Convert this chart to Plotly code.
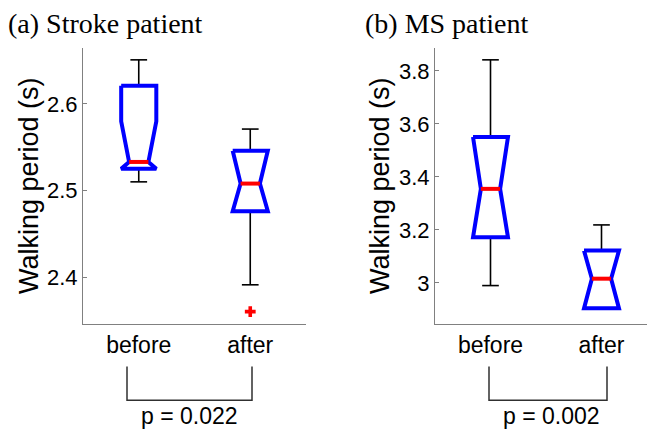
import plotly.graph_objects as go

# ---- data ----
categories = ["before", "after"]

# (a) Stroke patient
a_upper = [2.651, 2.571]
a_q3 = [2.621, 2.546]
a_median = [2.533, 2.508]
a_q1 = [2.525, 2.476]
a_lower = [2.510, 2.391]
a_notch = [0.047, 0.05]
a_outliers_x = ["after"]
a_outliers_y = [2.360]

# (b) MS patient
b_upper = [3.842, 3.219]
b_q3 = [3.551, 3.122]
b_median = [3.355, 3.016]
b_q1 = [3.172, 2.904]
b_lower = [2.990, 2.904]
b_notch = [0.25, 0.15]

a_ticks = [2.4, 2.5, 2.6]
a_ticktext = ["2.4", "2.5", "2.6"]
b_ticks = [3.0, 3.2, 3.4, 3.6, 3.8]
b_ticktext = ["3", "3.2", "3.4", "3.6", "3.8"]

p_values = ["p = 0.022", "p = 0.002"]
titles = ["(a) Stroke patient", "(b) MS patient"]

# ---- style ----
OFF = 8                      # default page body margin of the browser
W_REF, H_REF = 655, 429
W, H = W_REF - OFF, H_REF - OFF
TOP, BOTTOM = 48, 324.5      # plot area in page pixels
BOX_W = 0.315
NOTCH_W = 0.55 * BOX_W
CAP_W = 0.15
BLUE = "#0000FF"
RED = "#FF0000"
AXC = "#808080"
SANS = "Arial, Liberation Sans, sans-serif"
SERIF = "Times New Roman, Liberation Serif, serif"

fig = go.Figure()


def add_panel(xa, ya, upper, q3, med, q1, lower, notch):
    for i, cat in enumerate(categories):
        c = i + 1
        wx, wy = [], []
        if upper[i] > q3[i]:
            wx += [c, c, None, c - CAP_W / 2, c + CAP_W / 2, None]
            wy += [q3[i], upper[i], None, upper[i], upper[i], None]
        if lower[i] < q1[i]:
            wx += [c, c, None, c - CAP_W / 2, c + CAP_W / 2, None]
            wy += [q1[i], lower[i], None, lower[i], lower[i], None]
        if wx:
            fig.add_trace(go.Scatter(x=wx, y=wy, mode="lines", xaxis=xa, yaxis=ya,
                                     line=dict(color="black", width=1.6),
                                     hoverinfo="skip", showlegend=False))
        hi = min(q3[i], med[i] + notch[i])
        lo = max(q1[i], med[i] - notch[i])
        xl, xr = c - BOX_W / 2, c + BOX_W / 2
        nl, nr = c - NOTCH_W / 2, c + NOTCH_W / 2
        bx = [xl, xr, xr, nr, xr, xr, xl, xl, nl, xl, xl]
        by = [q3[i], q3[i], hi, med[i], lo, q1[i], q1[i], lo, med[i], hi, q3[i]]
        fig.add_trace(go.Scatter(x=bx, y=by, mode="lines", xaxis=xa, yaxis=ya,
                                 line=dict(color=BLUE, width=4),
                                 hoverinfo="skip", showlegend=False))
        fig.add_trace(go.Scatter(x=[nl, nr], y=[med[i], med[i]], mode="lines",
                                 xaxis=xa, yaxis=ya,
                                 line=dict(color=RED, width=4),
                                 hoverinfo="skip", showlegend=False))


add_panel("x", "y", a_upper, a_q3, a_median, a_q1, a_lower, a_notch)
add_panel("x2", "y2", b_upper, b_q3, b_median, b_q1, b_lower, b_notch)

fig.add_trace(go.Scatter(x=[categories.index(c) + 1 for c in a_outliers_x], y=a_outliers_y,
                         mode="markers", xaxis="x", yaxis="y",
                         marker=dict(symbol="cross", size=9, color=RED, line=dict(width=0)),
                         hoverinfo="skip", showlegend=False))


# ---- layout ----
def px_x(p):
    return (p - OFF) / W


def px_y(p):
    return (BOTTOM - p) / (BOTTOM - TOP)


xcommon = dict(tickmode="array", tickvals=[1, 2], ticktext=categories,
               showline=True, linecolor=AXC, linewidth=1, ticks="",
               showgrid=False, zeroline=False, fixedrange=True,
               tickfont=dict(family=SANS, size=23, color="black"))
ycommon = dict(showline=True, linecolor=AXC, linewidth=1, ticks="inside",
               ticklen=4, tickcolor=AXC, showgrid=False, zeroline=False,
               tickfont=dict(family=SANS, size=22, color="black"))

fig.update_layout(
    width=W, height=H,
    margin=dict(l=0, r=0, t=TOP - OFF, b=H_REF - BOTTOM),
    plot_bgcolor="white", paper_bgcolor="white",
    showlegend=False,
    xaxis=dict(domain=[px_x(83), px_x(306)], range=[0.5, 2.5], anchor="y", **xcommon),
    yaxis=dict(domain=[0, 1], range=[2.3457, 2.6647], anchor="x",
               tickvals=a_ticks, ticktext=a_ticktext, **ycommon),
    xaxis2=dict(domain=[px_x(435), 1.0], range=[0.5, 2.482], anchor="y2", **xcommon),
    yaxis2=dict(domain=[0, 1], range=[2.845, 3.8867], anchor="x2",
                tickvals=b_ticks, ticktext=b_ticktext, **ycommon),
)

ann = []
ann.append(dict(text=titles[0], x=px_x(6), y=px_y(23), xref="paper", yref="paper",
                xanchor="left", yanchor="middle", showarrow=False,
                font=dict(family=SERIF, size=28, color="black")))
ann.append(dict(text=titles[1], x=px_x(363), y=px_y(23), xref="paper", yref="paper",
                xanchor="left", yanchor="middle", showarrow=False,
                font=dict(family=SERIF, size=28, color="black")))
for xc in (29, 380):
    ann.append(dict(text="Walking period (s)", x=px_x(xc), y=0.5, xref="paper", yref="paper",
                    xanchor="center", yanchor="middle", textangle=-90, showarrow=False,
                    font=dict(family=SANS, size=27, color="black")))
for xc, txt in ((189, p_values[0]), (551, p_values[1])):
    ann.append(dict(text=txt, x=px_x(xc), y=px_y(417), xref="paper", yref="paper",
                    xanchor="center", yanchor="middle", showarrow=False,
                    font=dict(family=SANS, size=23, color="black")))
fig.update_layout(annotations=ann)

shapes = []
for x0, x1 in ((127, 252), (489, 607)):
    shapes.append(dict(type="path", xref="paper", yref="paper",
                       path=f"M {px_x(x0)} {px_y(367)} L {px_x(x0)} {px_y(401)} "
                            f"L {px_x(x1)} {px_y(401)} L {px_x(x1)} {px_y(367)}",
                       line=dict(color="#303030", width=1.5)))
fig.update_layout(shapes=shapes)

fig.write_html("out.html")
